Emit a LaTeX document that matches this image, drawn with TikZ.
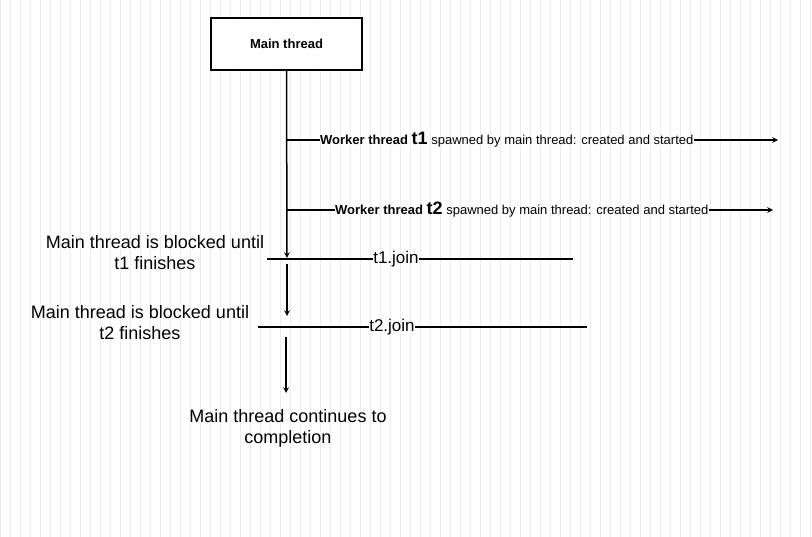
\documentclass[tikz,border=0pt]{standalone}
\usepackage{fontspec}
\setmainfont{Liberation Sans}
\begin{document}
\begin{tikzpicture}[x=1pt,y=-1pt,
  ln/.style={line width=1.5pt,black},
  ar/.style={ln,-stealth},
  txt/.style={inner sep=0pt,font=\fontsize{18}{21}\selectfont,align=center},
  wk/.style={inner sep=0pt,anchor=west,font=\fontsize{13}{15}\selectfont}]
\fill[white] (0,0) rectangle (812,537);
\useasboundingbox (0,0) rectangle (812,537);
\draw[black!7,line width=0.6pt,step=10] (0,0) grid (812,537);
\node[draw,line width=1.2pt,fill=white,minimum width=151,minimum height=52,font=\bfseries\fontsize{13}{15}\selectfont] (main) at (286.5,44) {Main thread};
\coordinate (b1) at (287,140);
\coordinate (b2) at (287,210);
\node[wk] (w1) at (320,140) {\textbf{Worker thread \fontsize{18}{18}\selectfont t1} spawned by main thread: created and started};
\node[wk] (w2) at (335,210) {\textbf{Worker thread \fontsize{18}{18}\selectfont t2} spawned by main thread: created and started};
\coordinate (e1) at (778,140);
\coordinate (e2) at (773,210);
\coordinate (a1) at (287,258);
\draw[ar] (main.south) -- (a1);
\draw[ln] (b1) -- (w1.west);
\draw[ln] (b2) -- (w2.west);
\draw[ar] (w1.east) -- (e1);
\draw[ar] (w2.east) -- (e2);
% join 1
\node[txt,font=\fontsize{17}{20}\selectfont] (j1) at (396,259) {t1.join};
\coordinate (j1l) at (267,259);
\coordinate (j1r) at (573,259);
\draw[ln] (j1l) -- (j1.west);
\draw[ln] (j1.east) -- (j1r);
\coordinate (s2) at (287,264);
\coordinate (a2) at (287,316);
\draw[ar] (s2) -- (a2);
% join 2
\node[txt,font=\fontsize{17}{20}\selectfont] (j2) at (392,327) {t2.join};
\coordinate (j2l) at (258,327);
\coordinate (j2r) at (587,327);
\draw[ln] (j2l) -- (j2.west);
\draw[ln] (j2.east) -- (j2r);
\coordinate (s3) at (286,337);
\coordinate (a3) at (286,393);
\draw[ar] (s3) -- (a3);
\node[txt] (l1) at (155,253) {Main thread is blocked until\\t1 finishes};
\node[txt] (l2) at (140,323) {Main thread is blocked until\\t2 finishes};
\node[txt] (fin) at (288,428) {Main thread continues to\\completion};
\end{tikzpicture}
\end{document}
